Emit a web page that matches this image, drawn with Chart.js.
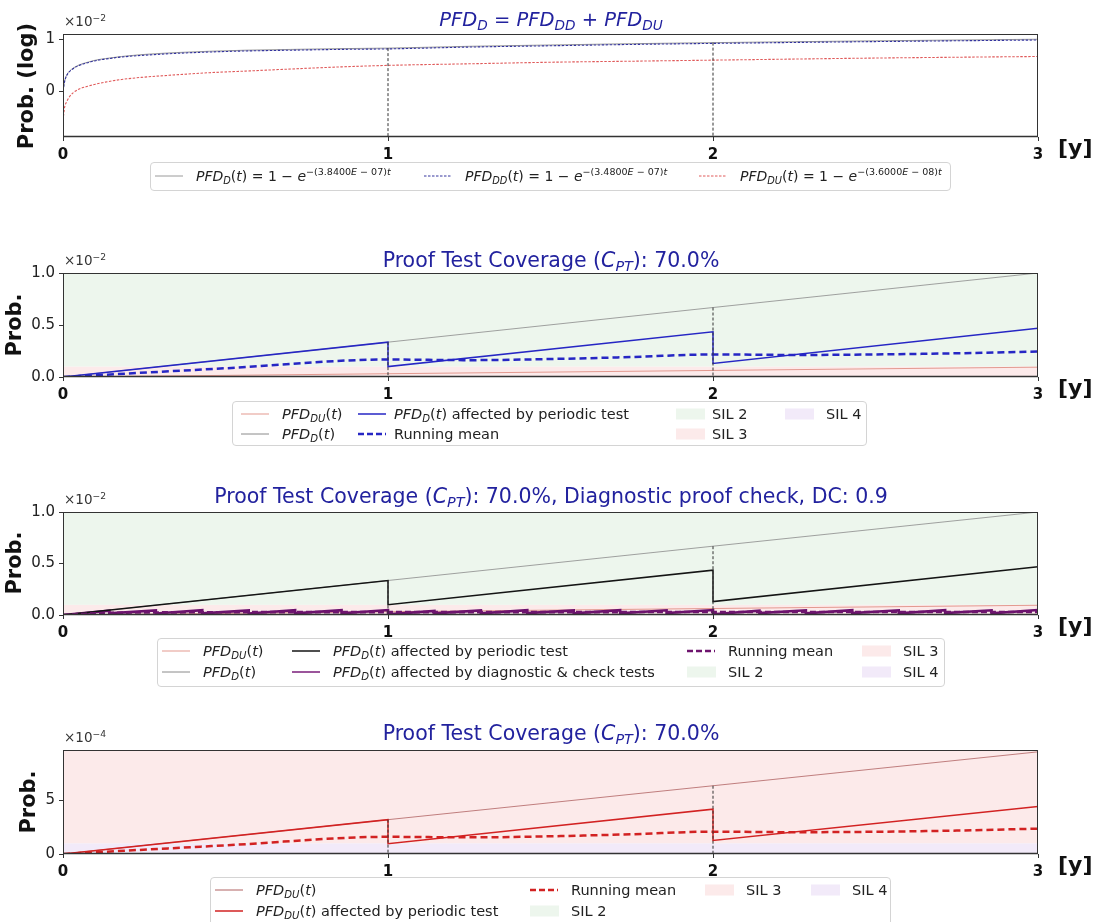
<!DOCTYPE html>
<html><head><meta charset="utf-8">
<script src="https://cdn.jsdelivr.net/npm/chart.js@4.4.0/dist/chart.umd.min.js"></script>
<style>
body{margin:0;background:#fff;}
#root{position:relative;width:1098px;height:922px;overflow:hidden;font-family:"DejaVu Sans",sans-serif;background:#fff;}
canvas{position:absolute;left:0;}
.t{position:absolute;white-space:nowrap;line-height:1;}
sub{font-size:70%;vertical-align:-0.3em;line-height:0;}
sup{font-size:68%;vertical-align:0.6em;line-height:0;}
.leg{position:absolute;border:1px solid #d4d4d4;border-radius:4px;background:rgba(255,255,255,0.9);box-sizing:border-box;}
</style></head><body><div id="root"></div>
<script>
// ---------------- DATA ----------------
const xTickValues = [0, 1, 2, 3];
const xTickLabels = ['0', '1', '2', '3'];
const testTimes = [1, 2];

// Panel 1 (log-like view)
const p1YTicks = [0, 1];
const p1YLabels = ['0', '1'];
const p1T  = [0, 0.005, 0.011, 0.02, 0.032, 0.05, 0.076, 0.1, 0.13, 0.18, 0.24, 0.35, 0.45, 0.56, 0.7, 0.85, 1.0, 1.25, 1.5, 1.75, 2.0, 2.5, 3.0];
const p1D  = [0.02, 0.2, 0.31, 0.39, 0.45, 0.51, 0.56, 0.6, 0.63, 0.67, 0.705, 0.745, 0.77, 0.79, 0.805, 0.82, 0.83, 0.865, 0.89, 0.915, 0.935, 0.97, 1.0];
const p1DD = [0.01, 0.19, 0.30, 0.38, 0.44, 0.50, 0.55, 0.59, 0.62, 0.66, 0.69, 0.73, 0.755, 0.775, 0.79, 0.805, 0.815, 0.85, 0.875, 0.90, 0.92, 0.955, 0.985];
const p1DU = [-0.55, -0.3, -0.2, -0.1, -0.02, 0.05, 0.1, 0.14, 0.18, 0.23, 0.27, 0.32, 0.36, 0.39, 0.43, 0.47, 0.50, 0.53, 0.56, 0.58, 0.60, 0.64, 0.67];

// Panels 2 & 3 (x 1e-2)
const p2YTicks = [0, 0.5, 1.0];
const p2YLabels = ['0.0', '0.5', '1.0'];
const linT   = [0, 1, 2, 3];
const p2D    = [0, 0.335, 0.668, 1.0];
const p2DU   = [0, 0.0315, 0.063, 0.0946];
const testT  = [0, 1, 1, 2, 2, 3];
const p2Test = [0, 0.335, 0.10, 0.435, 0.13, 0.468];
const meanT  = [0, 0.5, 1, 1.25, 1.5, 1.75, 2, 2.25, 2.5, 2.75, 3];
const p2Mean = [0, 0.084, 0.168, 0.162, 0.173, 0.192, 0.217, 0.212, 0.217, 0.228, 0.245];
const diagChecksPerYear = 7;
const diagBottom = [0, 0.016, 0.015, 0.017, 0.015, 0.016, 0.017, 0.006, 0.017, 0.016, 0.018, 0.016, 0.017, 0.018, 0.008, 0.018, 0.017, 0.018, 0.017, 0.018, 0.017];
const diagTop    = [0.042, 0.044, 0.046, 0.045, 0.047, 0.046, 0.048, 0.040, 0.045, 0.046, 0.045, 0.047, 0.046, 0.048, 0.042, 0.046, 0.047, 0.046, 0.047, 0.046, 0.048];
const diagMeanT  = [0, 0.07, 0.143, 0.3, 0.5, 0.75, 1, 1.5, 2, 2.5, 3];
const diagMean   = [0, 0.012, 0.021, 0.025, 0.027, 0.028, 0.028, 0.028, 0.029, 0.029, 0.029];

// Panel 4 (x 1e-4)
const p4YTicks = [0, 5];
const p4YLabels = ['0', '5'];
const p4DU   = [0, 3.18, 6.32, 9.46];
const p4Test = [0, 3.18, 0.95, 4.15, 1.25, 4.4];
const p4Mean = [0, 0.8, 1.59, 1.54, 1.64, 1.83, 2.07, 2.02, 2.06, 2.17, 2.35];

// SIL bands (lower, upper) in each panel's units
const silP2 = {SIL2: [0.1, 1.0], SIL3: [0.01, 0.1], SIL4: [0.001, 0.01]};
const silP4 = {SIL2: [10, 100], SIL3: [1, 10], SIL4: [0.1, 1]};

// ---------------- STYLE ----------------
const AREA_LEFT = 63, AREA_RIGHT = 1038, W = 1098;
const C_SIL2s = 'rgb(237,246,237)', C_SIL3s = 'rgb(252,234,234)', C_SIL4s = 'rgb(242,234,249)';
const TITLE_C = '#22229e';
const root = document.getElementById('root');

const zip = (xs, ys) => xs.map((x, i) => ({x, y: ys[i]}));
function ln(pts, color, width, dash, order, extra) {
  return Object.assign({data: pts, borderColor: color, borderWidth: width, borderDash: dash || [],
    pointRadius: 0, fill: false, order, tension: 0}, extra || {});
}
function band(lo, hi, color, order) {
  return {data: [{x: 0, y: hi}, {x: 3, y: hi}], borderColor: 'rgba(0,0,0,0)', borderWidth: 0,
    backgroundColor: color, fill: {value: lo}, pointRadius: 0, order};
}
function vlines(xs, ys, bottom) {
  return testTimes.map(t => ln([{x: t, y: ys[xs.indexOf(t)]}, {x: t, y: bottom}], '#333', 1, [3, 2], 1));
}

const framePlugin = {id: 'frame', afterDatasetsDraw(chart) {
  const {ctx, chartArea: a} = chart;
  ctx.save();
  ctx.strokeStyle = '#333'; ctx.lineWidth = 1;
  ctx.strokeRect(Math.round(a.left) + 0.5, Math.round(a.top) + 0.5, Math.round(a.right - a.left) - 1, Math.round(a.bottom - a.top) - 1);
  ctx.lineWidth = 1.5; ctx.beginPath(); ctx.moveTo(a.left, Math.round(a.bottom) - 0.5); ctx.lineTo(a.right, Math.round(a.bottom) - 0.5); ctx.stroke();
  ctx.restore();
}};

function makeChart(cfg) {
  const padTop = 14, axisH = 30;
  const c = document.createElement('canvas');
  c.width = W; c.height = cfg.bottom - cfg.top + padTop + axisH;
  c.style.top = (cfg.top - padTop) + 'px';
  root.appendChild(c);
  const gridCfg = {display: true, drawOnChartArea: false, drawTicks: true, tickLength: 4, color: '#333', lineWidth: 1};
  new Chart(c, {
    type: 'line',
    data: {datasets: cfg.datasets},
    options: {
      responsive: false, animation: false, devicePixelRatio: 1,
      layout: {padding: {top: padTop, left: 0, right: W - AREA_RIGHT, bottom: 0}},
      plugins: {legend: {display: false}, tooltip: {enabled: false}, title: {display: false}},
      elements: {point: {radius: 0}, line: {borderJoinStyle: 'miter'}},
      scales: {
        x: {type: 'linear', min: 0, max: 3,
          afterFit: s => { s.height = axisH; },
          afterBuildTicks: s => { s.ticks = xTickValues.map(v => ({value: v})); },
          ticks: {callback: (v, i) => xTickLabels[i], font: {family: 'DejaVu Sans', size: 15, weight: 'bold'},
            color: '#111', padding: 5, maxRotation: 0, autoSkip: false},
          grid: gridCfg, border: {display: false}},
        y: {type: 'linear', min: cfg.ymin, max: cfg.ymax,
          afterFit: s => { s.width = AREA_LEFT; },
          afterBuildTicks: s => { s.ticks = cfg.yticks.map(v => ({value: v})); },
          ticks: {callback: (v, i) => cfg.ylabels[i], font: {family: 'DejaVu Sans', size: 15},
            color: '#222', padding: 4, autoSkip: false},
          grid: gridCfg, border: {display: false}}
      }
    },
    plugins: [framePlugin]
  });
}

function put(html, x, y, css, ax) {
  const d = document.createElement('div');
  d.className = 't'; d.innerHTML = html; d.style.cssText += (css || '');
  d.style.left = x + 'px'; d.style.top = y + 'px';
  const tx = ax === 'center' ? '-50%' : ax === 'right' ? '-100%' : '0';
  d.style.transform = d.style.transform || `translate(${tx},-50%)`;
  root.appendChild(d); return d;
}
function lineSample(color, width, dash) {
  return `<svg width="28" height="12" style="display:block"><line x1="0" y1="6" x2="28" y2="6" stroke="${color}" stroke-width="${width}" ${dash ? `stroke-dasharray="${dash}"` : ''}/></svg>`;
}
function patchSample(color) {
  return `<div style="width:29px;height:11px;background:${color}"></div>`;
}
function legend(box, items, fs) {
  const b = document.createElement('div'); b.className = 'leg';
  b.style.left = box[0] + 'px'; b.style.top = box[1] + 'px';
  b.style.width = (box[2] - box[0]) + 'px'; b.style.height = (box[3] - box[1]) + 'px';
  root.appendChild(b);
  items.forEach(it => {
    put(it.s, it.tx - (it.so || 41), it.y, '', 'left');
    put(it.h, it.tx, it.y, `font-size:${fs || 14.5}px;color:#222;`, 'left');
  });
}
function yLabel(txt, x, y) {
  put(txt, x, y, 'font-size:21px;font-weight:bold;color:#111;transform:translate(-50%,-50%) rotate(-90deg);');
}
function yUnit(txt, top) { put(txt, 64, top - 12, 'font-size:13.5px;color:#333;'); }
function xUnit(bottom) { put('[y]', 1058, bottom + 11, 'font-size:22px;font-weight:bold;color:#111;'); }
function title(html, y, fs) { put(html, 551, y, `font-size:${fs || 20.5}px;color:${TITLE_C};`, 'center'); }

const I = s => `<i>${s}</i>`;
const pfd = sub => `${I('PFD')}<sub>${I(sub)}</sub>(${I('t')})`;
const eqn = (sub, rate) => `${I('PFD')}<sub>${I(sub)}</sub>(${I('t')}) = 1 − ${I('e')}<sup>−(${rate.replace('E', '<i>E</i>')})<i>t</i></sup>`;
const cpt = `Proof Test Coverage (${I('C')}<sub>${I('PT')}</sub>): 70.0%`;

// ---------------- PANEL 1 ----------------
const P1 = {top: 34, bottom: 137};
makeChart({top: P1.top, bottom: P1.bottom, ymin: -0.87, ymax: 1.10, yticks: p1YTicks, ylabels: p1YLabels,
  datasets: [
    ln(zip(p1T, p1D), '#9a9a9a', 1, [], 4, {cubicInterpolationMode: 'monotone'}),
    ln(zip(p1T, p1DD), '#34349e', 1.1, [2.5, 1.5], 3, {cubicInterpolationMode: 'monotone'}),
    ln(zip(p1T, p1DU), '#e05a5a', 1.1, [2.5, 1.5], 3, {cubicInterpolationMode: 'monotone'}),
    ...vlines(p1T, p1D, -0.87)
  ]});
title(`${I('PFD')}<sub>${I('D')}</sub> = ${I('PFD')}<sub>${I('DD')}</sub> + ${I('PFD')}<sub>${I('DU')}</sub>`, 20, 19.5);
yLabel('Prob. (log)', 26, 86);
yUnit('×10<sup>−2</sup>', P1.top);
xUnit(P1.bottom);
legend([150, 162, 951, 191], [
  {tx: 196, y: 176, s: lineSample('#9a9a9a', 1), h: eqn('D', '3.8400E − 07')},
  {tx: 465, y: 176, s: lineSample('#34349e', 1, '2.5,1.5'), h: eqn('DD', '3.4800E − 07')},
  {tx: 740, y: 176, s: lineSample('#e05a5a', 1, '2.5,1.5'), h: eqn('DU', '3.6000E − 08')}
], 14);

// ---------------- PANEL 2 ----------------
const P2 = {top: 273, bottom: 377};
makeChart({top: P2.top, bottom: P2.bottom, ymin: 0, ymax: 1.0, yticks: p2YTicks, ylabels: p2YLabels,
  datasets: [
    band(silP2.SIL2[0], silP2.SIL2[1], C_SIL2s, 20),
    band(silP2.SIL3[0], silP2.SIL3[1], C_SIL3s, 21),
    band(silP2.SIL4[0], silP2.SIL4[1], C_SIL4s, 22),
    ln(zip(linT, p2DU), '#e3998f', 1, [], 6),
    ln(zip(linT, p2D), '#8a8a8a', 0.8, [], 6),
    ln(zip(testT, p2Test), '#2626c4', 1.5, [], 3),
    ln(zip(meanT, p2Mean), '#2626c4', 2.5, [7, 4], 2, {cubicInterpolationMode: 'monotone'}),
    ...vlines(linT, p2D, 0)
  ]});
title(cpt, 260);
yLabel('Prob.', 14, 325);
yUnit('×10<sup>−2</sup>', P2.top);
xUnit(P2.bottom);
legend([232, 401, 867, 446], [
  {tx: 282, y: 414, s: lineSample('#e3998f', 1), h: pfd('DU')},
  {tx: 282, y: 434, s: lineSample('#8a8a8a', 1), h: pfd('D')},
  {tx: 394, y: 414, so: 36, s: lineSample('#2626c4', 1.5), h: pfd('D') + ' affected by periodic test'},
  {tx: 394, y: 434, so: 36, s: lineSample('#2626c4', 2.5, '6,3'), h: 'Running mean'},
  {tx: 712, y: 414, so: 36, s: patchSample(C_SIL2s), h: 'SIL 2'},
  {tx: 712, y: 434, so: 36, s: patchSample(C_SIL3s), h: 'SIL 3'},
  {tx: 826, y: 414, s: patchSample(C_SIL4s), h: 'SIL 4'}
]);

// ---------------- PANEL 3 ----------------
const P3 = {top: 512, bottom: 615};
const diagPts = [];
diagBottom.forEach((b, k) => {
  diagPts.push({x: k / diagChecksPerYear, y: b});
  diagPts.push({x: (k + 1) / diagChecksPerYear, y: diagTop[k]});
});
makeChart({top: P3.top, bottom: P3.bottom, ymin: 0, ymax: 1.0, yticks: p2YTicks, ylabels: p2YLabels,
  datasets: [
    band(silP2.SIL2[0], silP2.SIL2[1], C_SIL2s, 20),
    band(silP2.SIL3[0], silP2.SIL3[1], C_SIL3s, 21),
    band(silP2.SIL4[0], silP2.SIL4[1], C_SIL4s, 22),
    ln(zip(linT, p2DU), '#e3998f', 1, [], 6),
    ln(zip(linT, p2D), '#8a8a8a', 0.8, [], 6),
    ln(zip(testT, p2Test), '#141414', 1.5, [], 3),
    ln(diagPts, '#6a106c', 2.6, [], 4),
    ln(zip(diagMeanT, diagMean), '#6e146e', 2.6, [6, 3], 2, {cubicInterpolationMode: 'monotone'}),
    ...vlines(linT, p2D, 0)
  ]});
title(cpt + ', Diagnostic proof check, DC: 0.9', 496);
yLabel('Prob.', 14, 563);
yUnit('×10<sup>−2</sup>', P3.top);
xUnit(P3.bottom);
legend([157, 638, 945, 687], [
  {tx: 203, y: 651, s: lineSample('#e3998f', 1), h: pfd('DU')},
  {tx: 203, y: 672, s: lineSample('#8a8a8a', 1), h: pfd('D')},
  {tx: 333, y: 651, s: lineSample('#141414', 1.5), h: pfd('D') + ' affected by periodic test'},
  {tx: 333, y: 672, s: lineSample('#7a1c7a', 1.5), h: pfd('D') + ' affected by diagnostic &amp; check tests'},
  {tx: 728, y: 651, s: lineSample('#6e146e', 2.5, '6,3'), h: 'Running mean'},
  {tx: 728, y: 672, s: patchSample(C_SIL2s), h: 'SIL 2'},
  {tx: 903, y: 651, s: patchSample(C_SIL3s), h: 'SIL 3'},
  {tx: 903, y: 672, s: patchSample(C_SIL4s), h: 'SIL 4'}
]);

// ---------------- PANEL 4 ----------------
const P4 = {top: 750, bottom: 854};
makeChart({top: P4.top, bottom: P4.bottom, ymin: 0, ymax: 9.63, yticks: p4YTicks, ylabels: p4YLabels,
  datasets: [
    band(silP4.SIL2[0], silP4.SIL2[1], C_SIL2s, 20),
    band(silP4.SIL3[0], silP4.SIL3[1], C_SIL3s, 21),
    band(silP4.SIL4[0], silP4.SIL4[1], C_SIL4s, 22),
    ln(zip(linT, p4DU), '#b06262', 0.8, [], 6),
    ln(zip(testT, p4Test), '#d22222', 1.5, [], 3),
    ln(zip(meanT, p4Mean), '#d22222', 2.5, [7, 4], 2, {cubicInterpolationMode: 'monotone'}),
    ...vlines(linT, p4DU, 0)
  ]});
title(cpt, 733);
yLabel('Prob.', 28, 802);
yUnit('×10<sup>−4</sup>', P4.top);
xUnit(P4.bottom);
legend([210, 877, 891, 930], [
  {tx: 256, y: 890, s: lineSample('#b06262', 1), h: pfd('DU')},
  {tx: 256, y: 911, s: lineSample('#d22222', 1.5), h: pfd('DU') + ' affected by periodic test'},
  {tx: 571, y: 890, s: lineSample('#d22222', 2.5, '6,3'), h: 'Running mean'},
  {tx: 571, y: 911, s: patchSample(C_SIL2s), h: 'SIL 2'},
  {tx: 746, y: 890, s: patchSample(C_SIL3s), h: 'SIL 3'},
  {tx: 852, y: 890, s: patchSample(C_SIL4s), h: 'SIL 4'}
]);
</script></body></html>
